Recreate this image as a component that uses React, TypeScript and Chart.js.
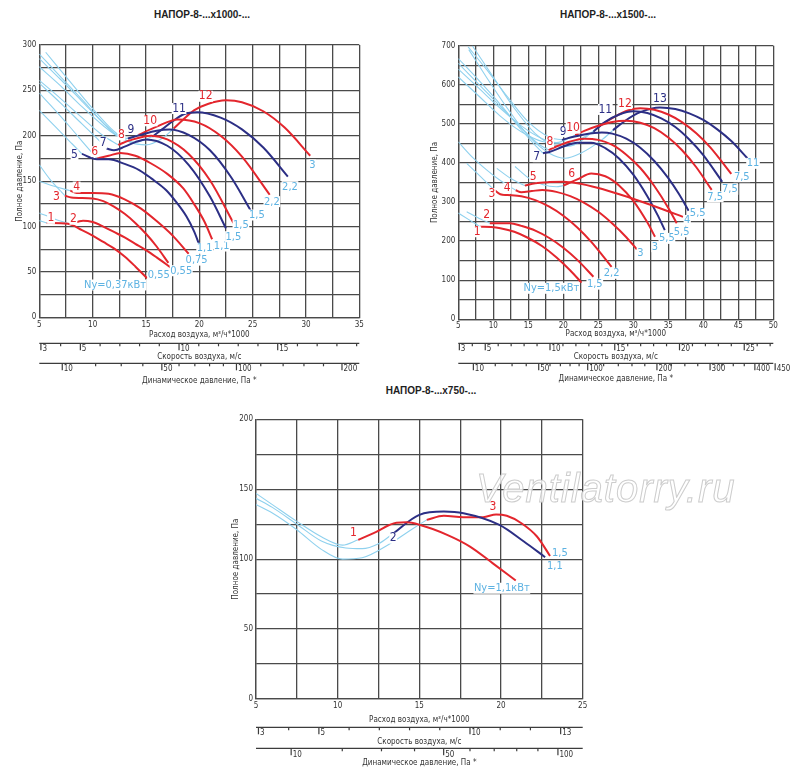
import { useEffect, useRef } from "react";
import { Chart, registerables } from "chart.js";

Chart.register(...registerables);

type Pt = [number, number];

// the two lower scales are derived from the flow: outlet speed and dynamic pressure
const FLOW_PER_SPEED = 1.85;
const FLOW_SHIFT = -0.4;
const AIR_DENSITY = 1.2;

// ---------- НАПОР-8-...x1000-... ----------
const curves1000: Pt[][] = [
  [[5.7, 104], [7.7, 103], [9, 96], [10, 90], [11, 83], [12, 76], [13, 67], [14, 56], [15.1, 43]],
  [[7.9, 102.5], [9.1, 106.5], [10, 105], [11, 100], [12, 94], [13, 88], [14, 81], [15, 74], [16, 66], [17.3, 55]],
  [[7.4, 134], [8, 132], [10, 131], [11, 128], [12, 122], [13, 114], [14, 104], [15, 92], [16, 78], [17.1, 60]],
  [[7.9, 139.5], [8.5, 137], [10, 137], [11.5, 136], [13, 130], [14.5, 120], [16, 106], [17.5, 90], [19, 70]],
  [[9, 180], [10.4, 174], [11.5, 174], [13, 169], [14.4, 162], [15.5, 153], [16.9, 140], [17.9, 126], [18.8, 111], [19.5, 95], [20, 80]],
  [[10.4, 175], [11.5, 178], [12.6, 181], [14, 178], [15.4, 170], [17, 158], [18.5, 142], [19.5, 125], [20.5, 105], [21.2, 86]],
  [[11.3, 186], [12, 184], [13, 188], [14, 193], [15, 196], [17, 189], [19, 168], [21, 133], [22.5, 98]],
  [[12.4, 190], [13.5, 195], [15.5, 200], [17, 196], [19, 180], [21, 151], [23.2, 104]],
  [[13.3, 197], [14.5, 201], [16, 205.5], [17.2, 207], [19, 201], [21, 184], [23, 154], [24.8, 118]],
  [[14.3, 201], [16, 210], [18, 218], [20, 214], [22, 200], [24, 177], [26.6, 135]],
  [[15.6, 199], [16.5, 207], [17.5, 216], [18.6, 224], [19.8, 226], [22, 220], [24, 207], [26, 187], [28.3, 155]],
  [[17.6, 208], [18.5, 218], [19.5, 228], [20.8, 235], [22.5, 239], [24, 237], [26, 227], [28, 209], [30.4, 178]],
];
const unstable1000: Pt[][] = [
  [[5, 106.5], [5.7, 104]],
  [[5, 115], [6.5, 108], [7.9, 102.5]],
  [[5, 168], [6, 152], [7, 139], [7.4, 134]],
  [[5, 150], [6.5, 144], [7.9, 139.5]],
  [[5, 228], [6.5, 210], [8, 192], [9, 180]],
  [[5, 247], [6.5, 228], [8, 208], [9.3, 190], [10.4, 175]],
  [[5, 258], [7, 236], [9, 213], [10.5, 196], [11.3, 186]],
  [[5, 261], [7, 241], [9, 220], [11, 200], [12.4, 190]],
  [[5, 276], [7, 255], [9, 232], [11, 211], [12.3, 200], [13.3, 197]],
  [[5, 285], [7, 262], [9, 238], [11, 214], [12.5, 199], [13.5, 197], [14.3, 201]],
  [[5, 290], [7, 265], [9, 240], [11, 214], [12.5, 198], [14, 193], [15.6, 199]],
  [[5.6, 292], [8, 258], [10, 230], [12, 205], [13.5, 193], [15, 190], [16.5, 197], [17.6, 208]],
];
const numbers1000: Pt[] = [
  [6.1, 109], [8.2, 108], [6.6, 133], [8.5, 143.5], [8.3, 179], [10.2, 182.5],
  [11, 192], [12.7, 201], [13.6, 207], [15.4, 216.5], [18.1, 230], [20.6, 243.5],
];
const power1000 = ["0,55", "0,55", "0,75", "1,1", "1,1", "1,5", "1,5", "1,5", "2,2", "2,2", "3"];
const powerAt1000: Pt[] = [
  [16.2, 46.6], [18.3, 51.3], [19.75, 63], [20.5, 76], [22.1, 78.5], [23.2, 88.8],
  [23.9, 101.7], [25.4, 112.7], [26.8, 127.4], [28.5, 143.9], [30.6, 167.8],
];
const speedTicks1000 = [3, 4, 5, 6, 7, 8, 9, 10, 11, 12, 13, 14, 15, 16, 17, 18, 19];
const speedLabels1000 = [3, 5, 10, 15];
const dynTicks1000 = [10, 20, 30, 40, 50, 60, 70, 80, 90, 100, 120, 140, 160, 180, 200];
const dynLabels1000 = [10, 50, 100, 200];

// ---------- НАПОР-8-...x1500-... ----------
const curves1500: Pt[][] = [
  [[8.1, 237], [9.7, 236], [11, 233], [13, 224], [15, 208], [17, 187], [19, 159], [21, 125], [22.6, 94]],
  [[9.5, 246], [12.4, 246], [14, 239], [16, 227], [18, 208], [20, 183], [22, 152], [24.3, 109]],
  [[10.2, 330], [11, 320], [12, 318], [14, 315], [16, 305], [18, 288], [20, 265], [22, 235], [24, 198], [26.9, 134]],
  [[13.2, 330], [14, 325], [15.5, 328], [17, 331], [19, 326], [21, 315], [23, 298], [25, 275], [27, 245], [29, 210], [30.5, 179]],
  [[14.5, 342], [16, 348], [18, 351], [20, 352], [22, 348], [25, 336], [28, 320], [31, 302], [34, 283], [37.1, 262]],
  [[20, 342], [22, 358], [24, 373], [26, 366], [28, 342], [30, 303], [32, 248], [33.1, 211]],
  [[17.1, 425], [18, 428], [20, 442], [22, 452], [24, 452], [26, 438], [28, 411], [30, 370], [32, 315], [33.5, 266], [34.5, 228]],
  [[17.9, 433], [19, 442], [21, 455], [23, 462], [25, 459], [27, 446], [29, 421], [31, 387], [33, 341], [35, 285], [36.2, 246]],
  [[19.8, 459], [21, 465], [23, 473], [25.5, 478], [27, 475], [29, 462], [31, 439], [33, 405], [35, 361], [36.5, 321], [37.9, 278]],
  [[21.7, 471], [23, 482], [25, 495], [27, 505], [29, 508], [31, 503], [33, 489], [35, 465], [37, 432], [39, 389], [41.2, 331]],
  [[24.3, 480], [26, 505], [28, 524], [30, 532], [32, 528], [34, 514], [36, 492], [38, 460], [40, 420], [42.7, 352]],
  [[25, 493], [27, 515], [29.3, 535], [31, 540], [33, 536], [35, 524], [37, 504], [39, 476], [41, 440], [44, 372]],
  [[27.1, 484], [29, 510], [31, 530], [33.8, 542], [36, 538], [38, 527], [40, 510], [42, 486], [44, 456], [46.3, 412]],
];
const unstable1500: Pt[][] = [
  [[5, 272], [6.5, 255], [8.1, 237]],
  [[6.2, 275], [8, 258], [9.5, 246]],
  [[6.2, 399], [8, 368], [10.2, 330]],
  [[5, 454], [7, 415], [9, 383], [11, 355], [13.2, 330]],
  [[10.5, 386], [12.5, 360], [14.5, 342]],
  [[13.1, 391], [15, 362], [17, 345], [19, 339], [20, 342]],
  [[5, 667], [8, 610], [11, 550], [14, 485], [16, 445], [17.1, 425]],
  [[5, 655], [8, 600], [11, 545], [14, 490], [16.5, 448], [17.9, 433]],
  [[6.4, 697], [9, 640], [12, 570], [15, 505], [18, 466], [19.8, 459]],
  [[5, 640], [8, 590], [11, 540], [14, 495], [17, 462], [19, 452], [21.7, 471]],
  [[5, 620], [8, 570], [11, 520], [14, 480], [17, 455], [20, 450], [22, 458], [24.3, 480]],
  [[7, 700], [10, 620], [13, 540], [16, 475], [18, 450], [20, 442], [22, 450], [25, 493]],
  [[6.5, 690], [9, 620], [12, 540], [15, 470], [18, 425], [20.3, 412], [22.5, 425], [25.5, 459], [27.1, 484]],
];
const numbers1500: Pt[] = [
  [7.7, 224], [9.05, 267], [9.8, 322], [12, 335], [15.7, 365], [21.2, 373], [16.2, 416],
  [18.1, 454], [20, 480], [21.4, 489], [26, 537], [28.8, 552], [33.8, 565],
];
const power1500 = ["1,5", "2,2", "3", "3", "5,5", "5,5", "4", "5,5", "7,5", "7,5", "7,5", "11"];
const powerAt1500: Pt[] = [
  [24.5, 90], [26.9, 117.7], [31, 169], [33.1, 185.7], [34.8, 207], [36.9, 224],
  [37.7, 253], [39.2, 271], [41.7, 313.6], [43.8, 332.6], [45.5, 364.8], [47.1, 399],
];
const speedTicks1500 = [3, 4, 5, 6, 7, 8, 9, 10, 11, 12, 13, 14, 15, 16, 17, 18, 19, 20, 21, 22, 23, 24, 25, 26, 27];
const speedLabels1500 = [3, 5, 10, 15, 20, 25];
const dynTicks1500 = [10, 20, 30, 40, 50, 60, 70, 80, 90, 100, 120, 140, 160, 180, 200, 225, 250, 275, 300, 325, 350, 375, 400, 450];
const dynLabels1500 = [10, 50, 100, 200, 300, 400, 450];

// ---------- НАПОР-8-...x750-... ----------
const curves750: Pt[][] = [
  [[11.26, 113.8], [12.2, 118.6], [13.6, 126], [14.2, 126.3], [15, 124.6], [16.7, 117.4], [18.1, 109], [19.5, 97], [20.9, 84.7]],
  [[13.3, 117.4], [15, 131.7], [16.5, 134], [17.7, 132.8], [19.9, 124.5], [21.4, 112.6], [22.7, 101.4]],
  [[15.45, 128.1], [16.5, 131], [17.7, 130], [18.9, 130], [19.7, 132], [20.35, 131], [21.25, 125.7], [22.2, 116.2], [23, 102.3]],
];
const unstable750: Pt[][] = [
  [[5, 147], [6, 139], [7.5, 127], [9, 116], [10.3, 110], [11.26, 113.8]],
  [[5, 143.5], [6, 137], [7.5, 125], [9, 113], [10.5, 108], [11.5, 107.5], [12.5, 111], [13.3, 117.4]],
  [[5, 139], [6, 133], [7.5, 121], [9, 107], [10.3, 100], [11.5, 101], [13.2, 111], [14.5, 121], [15.45, 128.1]],
];
const numbers750: Pt[] = [[10.96, 118.6], [13.4, 115], [19.5, 137.7]];
const power750 = ["1,5", "1,1"];
const powerAt750: Pt[] = [[23.6, 104.3], [23.3, 94.7]];
const speedTicks750 = [3, 4, 5, 6, 7, 8, 9, 10, 11, 12, 13];
const speedLabels750 = [3, 5, 10, 13];
const dynTicks750 = [10, 20, 30, 40, 50, 60, 70, 80, 90, 100];
const dynLabels750 = [10, 50, 100];

const RED = "#e3262d";
const NAVY = "#2c2f85";
const SKY = "#8fd1ee";
const SKY_TEXT = "#5db2e2";
const GRID = "#4a4a4a";
const INK = "#333333";
const NARROW = "'Liberation Sans Narrow', 'Arial Narrow', 'DejaVu Sans Condensed', 'Liberation Sans', sans-serif";

const speedToFlow = (v: number) => FLOW_PER_SPEED * v + FLOW_SHIFT;
const dynToFlow = (p: number) => speedToFlow(Math.sqrt((2 * p) / AIR_DENSITY));

interface PanelSpec {
  left: number;
  top: number;
  width: number;
  height: number;
  pad: { left: number; top: number; right: number; bottom: number };
  yWidth: number;
  xHeight: number;
  tickPad: number;
  xMax: number;
  yMax: number;
  yStep: number;
  yLabelEvery: number;
  curves: Pt[][];
  unstable: Pt[][];
  navy: number[];
  numberAt: Pt[];
  powerText: string[];
  powerAt: Pt[];
  ny: string;
  nyAt: Pt;
  speedTicks: number[];
  speedLabels: number[];
  dynTicks: number[];
  dynLabels: number[];
  // offsets under the plot: speed line, speed text, speed title, dyn line, dyn text, dyn title
  rows: number[];
}

const makeOverlay = (p: PanelSpec) => ({
  id: "overlay",
  afterDraw(chart: any) {
    const { ctx, chartArea: a } = chart;
    const xs = chart.scales.x;
    const ys = chart.scales.y;

    const tag = (text: string, at: Pt, color: string) => {
      const x = xs.getPixelForValue(at[0]);
      const y = ys.getPixelForValue(at[1]);
      const w = ctx.measureText(text).width;
      ctx.fillStyle = "#ffffff";
      ctx.fillRect(x - w / 2 - 0.5, y - 5.5, w + 1, 11);
      ctx.fillStyle = color;
      ctx.fillText(text, x, y);
    };

    ctx.save();
    ctx.textAlign = "center";
    ctx.textBaseline = "middle";
    ctx.font = `12px ${NARROW}`;
    p.numberAt.forEach((at, i) => tag(String(i + 1), at, p.navy.includes(i + 1) ? NAVY : RED));
    ctx.font = `11px ${NARROW}`;
    p.powerAt.forEach((at, i) => tag(p.powerText[i], at, SKY_TEXT));
    tag(p.ny, p.nyAt, SKY_TEXT);

    const [sLine, sText, sTitle, dLine, dText, dTitle] = p.rows.map((r) => a.bottom + r);
    const lowerAxis = (
      lineY: number,
      ticks: number[],
      labels: number[],
      toFlow: (v: number) => number,
      textY: number,
      title: string,
      titleY: number
    ) => {
      ctx.strokeStyle = "#3c3c3c";
      ctx.lineWidth = 1.2;
      ctx.beginPath();
      ctx.moveTo(a.left, lineY);
      ctx.lineTo(a.right, lineY);
      ctx.stroke();
      ctx.font = `8px ${NARROW}`;
      ctx.fillStyle = INK;
      ctx.textAlign = "left";
      ticks.forEach((v) => {
        const x = xs.getPixelForValue(toFlow(v));
        const major = labels.includes(v);
        ctx.beginPath();
        ctx.moveTo(x, lineY);
        ctx.lineTo(x, lineY + (major ? 7 : 3));
        ctx.stroke();
        if (major) ctx.fillText(String(v), x + 1.5, textY);
      });
      ctx.textAlign = "center";
      ctx.fillText(title, (a.left + a.right) / 2, titleY);
    };
    lowerAxis(sLine, p.speedTicks, p.speedLabels, speedToFlow, sText, "Скорость воздуха, м/с", sTitle);
    lowerAxis(dLine, p.dynTicks, p.dynLabels, dynToFlow, dText, "Динамическое давление, Па *", dTitle);
    ctx.restore();
  },
});

function Panel({ spec }: { spec: PanelSpec }) {
  const canvasRef = useRef<HTMLCanvasElement | null>(null);

  useEffect(() => {
    const ctx = canvasRef.current?.getContext("2d");
    if (!ctx) return;
    const p = spec;
    const toXY = (pts: Pt[]) => pts.map(([x, y]) => ({ x, y }));

    const datasets: any[] = [];
    p.curves.forEach((pts, i) => {
      datasets.push({
        data: toXY(pts),
        borderColor: p.navy.includes(i + 1) ? NAVY : RED,
        borderWidth: 2,
        pointRadius: 0,
        fill: false,
        cubicInterpolationMode: "monotone",
        order: 0,
      });
    });
    p.unstable.forEach((pts) => {
      datasets.push({
        data: toXY(pts),
        borderColor: SKY,
        borderWidth: 1.1,
        pointRadius: 0,
        fill: false,
        cubicInterpolationMode: "monotone",
        order: 1,
      });
    });

    const tickFont = { family: NARROW, size: 8 };

    const chart = new Chart(ctx, {
      type: "line",
      data: { datasets },
      options: {
        responsive: false,
        animation: false,
        events: [],
        layout: { padding: p.pad },
        plugins: { legend: { display: false }, tooltip: { enabled: false } },
        scales: {
          x: {
            type: "linear",
            min: 5,
            max: p.xMax,
            afterFit: (s: any) => {
              s.height = p.xHeight;
            },
            ticks: {
              stepSize: 2.5,
              autoSkip: false,
              maxRotation: 0,
              padding: p.tickPad,
              font: tickFont,
              color: INK,
              callback: (v: any) => (Number(v) % 5 === 0 ? String(v) : ""),
            },
            grid: { color: GRID, lineWidth: 1.3, drawTicks: false },
            border: { color: GRID, width: 1.3 },
            title: {
              display: true,
              text: "Расход воздуха, м³/ч*1000",
              font: tickFont,
              color: INK,
              padding: 0,
            },
          },
          y: {
            type: "linear",
            min: 0,
            max: p.yMax,
            afterFit: (s: any) => {
              s.width = p.yWidth;
            },
            ticks: {
              stepSize: p.yStep,
              autoSkip: false,
              padding: 3,
              font: tickFont,
              color: INK,
              callback: (v: any) => (Number(v) % p.yLabelEvery === 0 ? String(v) : ""),
            },
            grid: { color: GRID, lineWidth: 1.3, drawTicks: false },
            border: { color: GRID, width: 1.3 },
            title: {
              display: true,
              text: "Полное давление, Па",
              font: tickFont,
              color: INK,
              padding: 0,
            },
          },
        },
      } as any,
      plugins: [makeOverlay(p)],
    });

    return () => {
      chart.destroy();
    };
  }, [spec]);

  return (
    <canvas
      ref={canvasRef}
      width={spec.width}
      height={spec.height}
      style={{ position: "absolute", left: spec.left, top: spec.top }}
    />
  );
}

const panel1000: PanelSpec = {
  left: 0,
  top: 30,
  width: 400,
  height: 360,
  pad: { left: 15, top: 15, right: 40.7, bottom: 50.2 },
  yWidth: 24.3,
  xHeight: 22.5,
  tickPad: 3,
  xMax: 35,
  yMax: 300,
  yStep: 25,
  yLabelEvery: 50,
  curves: curves1000,
  unstable: unstable1000,
  navy: [5, 7, 9, 11],
  numberAt: numbers1000,
  powerText: power1000,
  powerAt: powerAt1000,
  ny: "Ny=0,37кВт",
  nyAt: [12.1, 35.6],
  speedTicks: speedTicks1000,
  speedLabels: speedLabels1000,
  dynTicks: dynTicks1000,
  dynLabels: dynLabels1000,
  rows: [26, 31.7, 40, 46, 52, 63.7],
};

const panel1500: PanelSpec = {
  left: 420,
  top: 30,
  width: 380,
  height: 360,
  pad: { left: 10.2, top: 15.7, right: 26.7, bottom: 51.2 },
  yWidth: 28.1,
  xHeight: 19.5,
  tickPad: 2,
  xMax: 50,
  yMax: 700,
  yStep: 50,
  yLabelEvery: 100,
  curves: curves1500,
  unstable: unstable1500,
  navy: [7, 9, 11, 13],
  numberAt: numbers1500,
  powerText: power1500,
  powerAt: powerAt1500,
  ny: "Ny=1,5кВт",
  nyAt: [18.3, 79.3],
  speedTicks: speedTicks1500,
  speedLabels: speedLabels1500,
  dynTicks: dynTicks1500,
  dynLabels: dynLabels1500,
  rows: [24, 29.7, 38, 44, 50, 60],
};

const panel750: PanelSpec = {
  left: 200,
  top: 395,
  width: 420,
  height: 387,
  pad: { left: 31.2, top: 24.3, right: 37.3, bottom: 57.2 },
  yWidth: 24.8,
  xHeight: 25.8,
  tickPad: 2.2,
  xMax: 25,
  yMax: 200,
  yStep: 25,
  yLabelEvery: 50,
  curves: curves750,
  unstable: unstable750,
  navy: [2],
  numberAt: numbers750,
  powerText: power750,
  powerAt: powerAt750,
  ny: "Ny=1,1кВт",
  nyAt: [20.05, 79.2],
  speedTicks: speedTicks750,
  speedLabels: speedLabels750,
  dynTicks: dynTicks750,
  dynLabels: dynLabels750,
  rows: [28.3, 34.3, 42.7, 49.3, 56, 64.3],
};

const titleStyle = (cx: number, cy: number): React.CSSProperties => ({
  position: "absolute",
  left: cx - 110,
  top: cy - 7,
  width: 220,
  textAlign: "center",
  font: "bold 10px 'Liberation Sans', Arial, sans-serif",
  lineHeight: "14px",
  color: "#1e1e1e",
});

export default function App() {
  return (
    <div
      style={{
        position: "absolute",
        left: 0,
        top: 0,
        width: 800,
        height: 782,
        background: "#ffffff",
        overflow: "hidden",
      }}
    >
      <div style={titleStyle(202, 15)}>НАПОР-8-...x1000-...</div>
      <div style={titleStyle(608, 15)}>НАПОР-8-...x1500-...</div>
      <div style={titleStyle(431, 391)}>НАПОР-8-...x750-...</div>
      <Panel spec={panel1000} />
      <Panel spec={panel1500} />
      <Panel spec={panel750} />
      <div
        style={{
          position: "absolute",
          left: 476,
          top: 466,
          font: "italic 40px 'Liberation Sans', Arial, sans-serif",
          lineHeight: "44px",
          letterSpacing: 1,
          whiteSpace: "nowrap",
          color: "rgba(255,255,255,0.8)",
          WebkitTextStroke: "1px #cdcdcd",
          pointerEvents: "none",
        }}
      >
        Ventilatorry.ru
      </div>
    </div>
  );
}
